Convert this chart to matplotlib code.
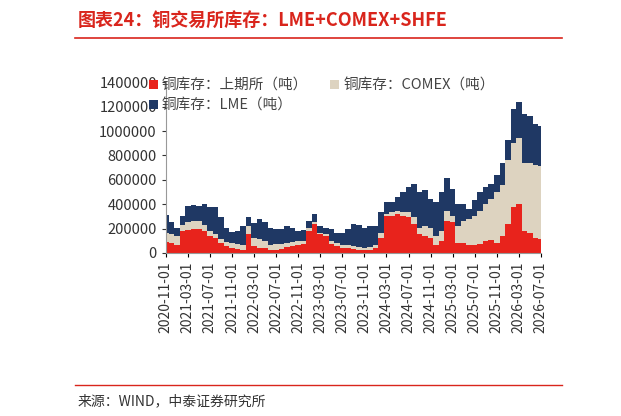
import matplotlib
matplotlib.use("Agg")
import matplotlib.pyplot as plt
from matplotlib.ticker import FuncFormatter
import numpy as np
import pandas as pd

plt.rcParams['font.family'] = ['Noto Sans CJK SC', 'DejaVu Sans']

dates = pd.date_range("2020-11-01", "2026-07-01", freq="MS")
shfe = [92,83,64,180,189,195,195,180,139,125,83,56,42,33,28,153,56,42,42,28,28,36,47,56,64,75,
        180,236,153,139,75,56,42,42,33,28,22,28,42,125,306,306,320,306,292,236,153,139,125,69,
        97,264,250,83,83,69,69,75,97,106,83,139,236,375,403,180,167,125,111]
shfe_comex = [167,153,139,230,250,258,258,230,180,153,111,89,83,75,69,222,125,111,97,69,75,75,83,89,97,97,
              208,250,167,153,97,83,69,61,56,47,42,47,61,167,320,333,347,333,333,292,208,222,208,139,
              180,347,306,222,264,278,306,347,403,444,500,556,764,903,944,736,736,722,714]
total = [314,250,208,305,383,397,389,403,375,375,292,208,175,180,222,292,244,278,250,208,194,194,222,208,180,186,
         264,320,222,208,194,167,167,194,236,228,208,222,222,333,417,417,458,500,542,569,500,514,444,417,
         500,611,528,403,403,361,431,500,542,569,639,736,931,1181,1236,1139,1125,1056,1042]
shfe = np.array(shfe) * 1000
comex = (np.array(shfe_comex) - np.array(shfe) / 1000) * 1000
lme = (np.array(total) - np.array(shfe_comex)) * 1000

tick_dates = pd.date_range("2020-11-01", "2026-07-01", freq="4MS")

fig = plt.figure(figsize=(6.21, 4.16), dpi=100)
ax = fig.add_axes([0.267, 0.392, 0.604, 0.41])
x = np.arange(len(dates))
c1, c2, c3 = "#e8231c", "#ddd3c0", "#1f3864"
h1 = ax.fill_between(x, 0, shfe, step="mid", color=c1, lw=0)
h2 = ax.fill_between(x, shfe, shfe + comex, step="mid", color=c2, lw=0)
h3 = ax.fill_between(x, shfe + comex, shfe + comex + lme, step="mid", color=c3, lw=0)
ax.set_xlim(0, len(dates) - 1)
ax.set_ylim(0, 1400000)
ax.set_yticks(np.arange(0, 1400001, 200000))
ax.yaxis.set_major_formatter(FuncFormatter(lambda v, p: f"{int(v)}"))
ax.tick_params(axis='y', labelsize=10.5, colors="#333333", length=3)
pos = [dates.get_loc(d) for d in tick_dates]
ax.set_xticks(pos)
ax.set_xticklabels([d.strftime("%Y-%m-%d") for d in tick_dates], rotation=90, fontsize=10, color="#333333")
ax.tick_params(axis='x', length=3)
for s in ["top", "right"]:
    ax.spines[s].set_visible(False)
ax.spines["left"].set_color("#999999")
ax.spines["bottom"].set_color("#999999")
ax.legend([h1, h3, h2], ["铜库存：上期所（吨）", "铜库存：LME（吨）", "铜库存：COMEX（吨）"],
          ncol=2, loc="upper left", bbox_to_anchor=(-0.08, 1.1),
          frameon=False, fontsize=10.5, handlelength=0.6, handleheight=0.6, handletextpad=0.3,
          columnspacing=1.5, labelspacing=0.4, labelcolor="#444444")

fig.text(0.125, 0.935, "图表24：铜交易所库存：LME+COMEX+SHFE", color="#d9251c", fontsize=13,
         fontweight="bold", style="italic")
fig.add_artist(plt.Line2D([0.12, 0.905], [0.908, 0.908], color="#d9251c", lw=1.2))
fig.add_artist(plt.Line2D([0.12, 0.905], [0.075, 0.075], color="#d9251c", lw=1))
fig.text(0.125, 0.025, "来源：WIND，中泰证券研究所", color="#333333", fontsize=10)
fig.savefig("out.png", dpi=100)
